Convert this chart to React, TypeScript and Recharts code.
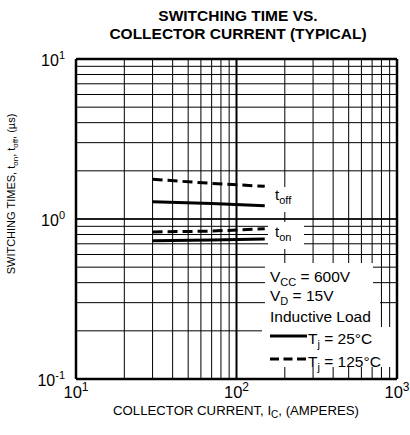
import React from 'react';
import { LineChart, Line, XAxis, YAxis, CartesianGrid, ReferenceLine } from 'recharts';

const currents = [30, 70, 150];
const tOff125 = [1.77, 1.67, 1.6];
const tOff25 = [1.28, 1.25, 1.21];
const tOn125 = [0.83, 0.84, 0.87];
const tOn25 = [0.73, 0.74, 0.75];

const xTicks = [10, 20, 30, 40, 50, 60, 70, 80, 90, 100, 200, 300, 400, 500, 600, 700, 800, 900, 1000];
const yTicks = [0.1, 0.2, 0.3, 0.4, 0.5, 0.6, 0.7, 0.8, 0.9, 1, 2, 3, 4, 5, 6, 7, 8, 9, 10];
const xLabels: Record<string, string> = { '10': '1', '100': '2', '1000': '3' };
const yLabels: Record<string, string> = { '0.1': '-1', '1': '0', '10': '1' };

const data = currents.map((c, k) => ({
  i: c,
  tOff125: tOff125[k],
  tOff25: tOff25[k],
  tOn125: tOn125[k],
  tOn25: tOn25[k],
}));

const FONT = '"Liberation Sans", Arial, Helvetica, sans-serif';

const XTick = (props: any) => {
  const { x, payload } = props;
  const lab = xLabels[String(payload.value)];
  if (!lab) return <g />;
  return (
    <text x={x} y={398} textAnchor="middle" fontSize={16.5} fontFamily={FONT} fill="#000">
      <tspan>10</tspan>
      <tspan dy={-7} fontSize={12}>{lab}</tspan>
    </text>
  );
};

const YTick = (props: any) => {
  const { y, payload } = props;
  const lab = yLabels[String(payload.value)];
  if (!lab) return <g />;
  return (
    <text x={65} y={y + 7} textAnchor="end" fontSize={16} fontFamily={FONT} fill="#000">
      <tspan>10</tspan>
      <tspan dy={-7} fontSize={11}>{lab}</tspan>
    </text>
  );
};

export default function App() {
  return (
    <div style={{ position: 'absolute', left: 0, top: 0, width: 410, height: 435, background: '#fff' }}>
      <LineChart
        width={410}
        height={435}
        data={data}
        margin={{ top: 59, right: 13, bottom: 26, left: 16 }}
      >
        <CartesianGrid stroke="#000" strokeWidth={1} />
        <XAxis
          dataKey="i"
          type="number"
          scale="log"
          domain={[10, 1000]}
          ticks={xTicks}
          interval={0}
          height={30}
          axisLine={false}
          tickLine={false}
          tick={(p: any) => <XTick {...p} />}
          allowDataOverflow
        />
        <YAxis
          type="number"
          scale="log"
          domain={[0.1, 10]}
          ticks={yTicks}
          interval={0}
          width={60}
          axisLine={false}
          tickLine={false}
          tick={(p: any) => <YTick {...p} />}
          allowDataOverflow
        />
        <ReferenceLine x={100} stroke="#000" strokeWidth={2} />
        <ReferenceLine y={1} stroke="#000" strokeWidth={1.5} />
        <ReferenceLine x={10} stroke="#000" strokeWidth={2.5} />
        <ReferenceLine x={1000} stroke="#000" strokeWidth={2.5} />
        <ReferenceLine y={0.1} stroke="#000" strokeWidth={2.5} />
        <ReferenceLine y={10} stroke="#000" strokeWidth={2.5} />

        <g>
          <rect x={268} y={187} width={36} height={25} fill="#fff" />
          <rect x={268} y={222} width={36} height={27} fill="#fff" />
          <rect x={265} y={263} width={108} height={38} fill="#fff" />
          <rect x={265} y={300} width={115} height={30} fill="#fff" />
          <rect x={262} y={327} width={134} height={40} fill="#fff" />
        </g>

        <Line dataKey="tOff125" stroke="#000" strokeWidth={3} strokeDasharray="10 5" dot={false} isAnimationActive={false} />
        <Line dataKey="tOff25" stroke="#000" strokeWidth={3} dot={false} isAnimationActive={false} />
        <Line dataKey="tOn125" stroke="#000" strokeWidth={3} strokeDasharray="10 5" dot={false} isAnimationActive={false} />
        <Line dataKey="tOn25" stroke="#000" strokeWidth={3} dot={false} isAnimationActive={false} />

        <g fontFamily={FONT} fill="#000">
          <text x={275} y={200} fontSize={15}>
            <tspan>t</tspan>
            <tspan dy={4} fontSize={11}>off</tspan>
          </text>
          <text x={275} y={237} fontSize={15}>
            <tspan>t</tspan>
            <tspan dy={4} fontSize={11}>on</tspan>
          </text>

          <text x={270} y={282} fontSize={15.5}>
            <tspan>V</tspan>
            <tspan dy={4} fontSize={11}>CC</tspan>
            <tspan dy={-4}> = 600V</tspan>
          </text>
          <text x={270} y={301} fontSize={15.5}>
            <tspan>V</tspan>
            <tspan dy={4} fontSize={11}>D</tspan>
            <tspan dy={-4}> = 15V</tspan>
          </text>
          <text x={270} y={322} fontSize={15.5}>Inductive Load</text>

          <line x1={270} x2={307} y1={336} y2={336} stroke="#000" strokeWidth={3} />
          <text x={308} y={344} fontSize={15.5}>
            <tspan>T</tspan>
            <tspan dy={4} fontSize={11}>j</tspan>
            <tspan dy={-4}> = 25°C</tspan>
          </text>
          <line x1={270} x2={307} y1={359} y2={359} stroke="#000" strokeWidth={3} strokeDasharray="9 4.5" />
          <text x={308} y={367} fontSize={15.5}>
            <tspan>T</tspan>
            <tspan dy={4} fontSize={11}>j</tspan>
            <tspan dy={-4}> = 125°C</tspan>
          </text>

          <text x={238} y={21} textAnchor="middle" fontSize={15.5} fontWeight="bold">SWITCHING TIME VS.</text>
          <text x={238} y={38.5} textAnchor="middle" fontSize={15.5} fontWeight="bold">COLLECTOR CURRENT (TYPICAL)</text>

          <text x={236} y={415} textAnchor="middle" fontSize={13.2}>
            <tspan>COLLECTOR CURRENT, I</tspan>
            <tspan dy={3} fontSize={10}>C</tspan>
            <tspan dy={-3}>, (AMPERES)</tspan>
          </text>

          <text x={15} y={194} textAnchor="middle" fontSize={11} transform="rotate(-90 15 194)">
            <tspan>SWITCHING TIMES, t</tspan>
            <tspan dy={3} fontSize={8}>on</tspan>
            <tspan dy={-3}>, t</tspan>
            <tspan dy={3} fontSize={8}>off</tspan>
            <tspan dy={-3}>, (µs)</tspan>
          </text>
        </g>
      </LineChart>
    </div>
  );
}
